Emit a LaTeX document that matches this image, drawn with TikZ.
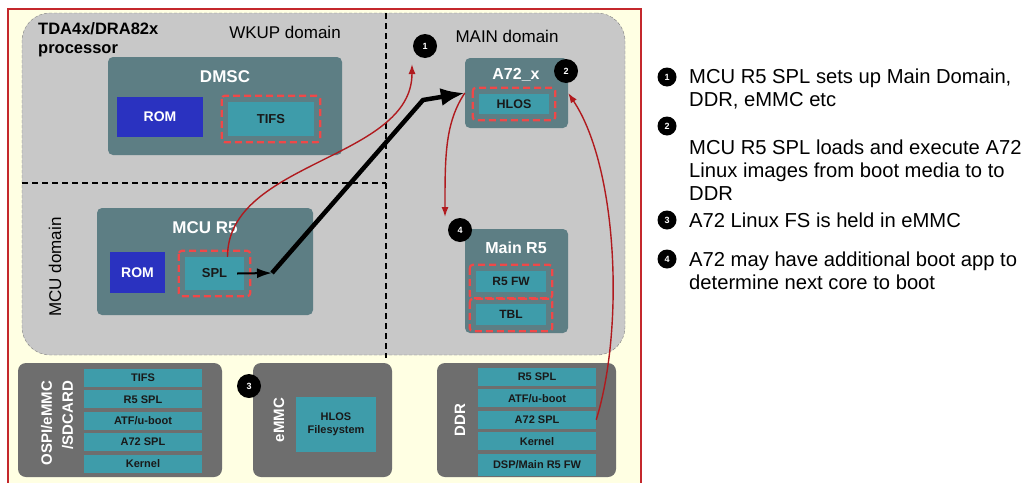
\documentclass[tikz,border=0pt]{standalone}
\usepackage{fontspec}
\setmainfont{Liberation Sans}
\usetikzlibrary{positioning,calc,arrows.meta}
\definecolor{framered}{RGB}{196,40,44}
\definecolor{paper}{RGB}{255,255,227}
\definecolor{procgray}{RGB}{200,200,200}
\definecolor{coreteal}{RGB}{93,126,132}
\definecolor{romblue}{RGB}{42,50,192}
\definecolor{fwteal}{RGB}{62,156,170}
\definecolor{dashred}{RGB}{240,72,72}
\definecolor{memgray}{RGB}{110,110,110}
\definecolor{flowred}{RGB}{176,26,30}
\tikzset{
  procbox/.style={fill=procgray, draw=gray, densely dashed, thin, rounded corners=28pt
  },
  core/.style={fill=coreteal, rounded corners=5pt, inner sep=0mm
  },
  coretitle/.style={text=white, font=\bfseries\fontsize{17}{19}\selectfont
  },
  rom/.style={fill=romblue, text=white, font=\bfseries\fontsize{14}{16}\selectfont, inner sep=0mm
  },
  fw/.style={fill=fwteal, text=black!90, font=\bfseries\fontsize{13}{15}\selectfont, inner sep=0mm
  },
  redbox/.style={draw=dashred, line width=2.2pt, dash pattern=on 7pt off 4pt, rounded corners=3pt
  },
  domline/.style={line width=1.3pt, dash pattern=on 6pt off 4pt
  },
  domlabel/.style={font=\fontsize{17}{19}\selectfont
  },
  mem/.style={fill=memgray, rounded corners=8pt, inner sep=0mm
  },
  memlabel/.style={text=white, font=\bfseries\fontsize{15}{21}\selectfont
  },
  memitem/.style={fill=fwteal, text=black!90, font=\bfseries\fontsize{11}{13}\selectfont,
    minimum width=118pt, minimum height=18pt, inner sep=0mm
  },
  num/.style={circle, fill=black, text=white, font=\bfseries\fontsize{9}{9}\selectfont,
    minimum size=24pt, inner sep=0mm
  },
  listnum/.style={circle, fill=black, text=white, font=\bfseries\fontsize{9}{9}\selectfont,
    minimum size=19pt, inner sep=0mm
  },
  flowarrow/.style={-{Latex[length=10pt,width=7pt]}, draw=flowred, line width=1.4pt
  },
  note/.style={anchor=west, align=left, font=\fontsize{20.2}{23}\selectfont, inner sep=0mm
  }
}

\begin{document}
\begin{tikzpicture}[x=1pt, y=-1pt]
  \useasboundingbox (0,0) rectangle (1032,482);
  \fill[white] (0,0) rectangle (1032,482);
  \draw[framered, fill=paper, line width=1.2pt] (8,9) rectangle (641,500);

  % processor and its domains
  \node[procbox, minimum width=603pt, minimum height=342pt] (proc) at (323.5,184) {};
  \draw[domline] (22,183) -- (386,183);
  \draw[domline] (386,13) -- (386,358);
  \node[anchor=north west, align=left, inner sep=0mm,
    font=\bfseries\fontsize{16.5}{19}\selectfont] (soc) at (38,22) {TDA4x/DRA82x\\processor};
  \node[domlabel] (wkup) at (285,32) {WKUP domain};
  \node[domlabel] (main) at (507,36) {MAIN domain};
  \node[domlabel, rotate=90] (mcu) at (55,267) {MCU domain};

  % DMSC
  \node[core, minimum width=234pt, minimum height=98pt] (dmsc) at (225,106) {};
  \node[coretitle] (dmsct) at (225,77) {DMSC};
  \node[rom, minimum width=86pt, minimum height=40pt] (dmscrom) at (160,117) {ROM};
  \node[fw, minimum width=86pt, minimum height=34pt] (tifs) at (271,119) {TIFS};
  \draw[redbox] ($(tifs.north west)+(-6,-6)$) rectangle ($(tifs.south east)+(6,6)$);

  % MCU R5
  \node[core, minimum width=216pt, minimum height=107pt] (mcur5) at (205,261.5) {};
  \node[coretitle] (mcur5t) at (205,228) {MCU R5};
  \node[rom, minimum width=55pt, minimum height=41pt] (mcurom) at (137.5,272.5) {ROM};
  \node[fw, minimum width=59pt, minimum height=33pt] (spl) at (214.5,273.5) {SPL};
  \draw[redbox] ($(spl.north west)+(-6,-6)$) rectangle ($(spl.south east)+(6,6)$);

  % A72
  \node[core, minimum width=103pt, minimum height=70pt] (a72) at (516.5,93) {};
  \node[coretitle, font=\bfseries\fontsize{16}{18}\selectfont] (a72t) at (516,75) {A72\_x};
  \node[fw, font=\bfseries\fontsize{12.5}{14}\selectfont, minimum width=70pt, minimum height=20pt] (hlos) at (514,104) {HLOS};
  \draw[redbox] ($(hlos.north west)+(-6,-6)$) rectangle ($(hlos.south east)+(6,6)$);

  % Main R5
  \node[core, minimum width=103pt, minimum height=104pt] (mainr5) at (516.5,281) {};
  \node[coretitle, font=\bfseries\fontsize{16}{18}\selectfont] (mainr5t) at (516,248) {Main R5};
  \node[fw, font=\bfseries\fontsize{12}{14}\selectfont, minimum width=70pt, minimum height=21pt] (r5fw) at (511,281.5) {R5 FW};
  \node[fw, font=\bfseries\fontsize{12}{14}\selectfont, minimum width=70pt, minimum height=21pt] (tbl) at (511,314.5) {TBL};
  \draw[redbox] ($(r5fw.north west)+(-6,-6)$) rectangle ($(r5fw.south east)+(6,6)$);
  \draw[redbox] ($(tbl.north west)+(-6,-5)$) rectangle ($(tbl.south east)+(6,6)$);

  % boot media
  \node[mem, minimum width=204pt, minimum height=114pt] (ospi) at (120,420) {};
  \node[memlabel, rotate=90, align=right] (ospil) at (57,423) {OSPI/eMMC\\/SDCARD};
  \node[memitem] (ospitifs) at (143,378) {TIFS};
  \node[memitem, below=3pt of ospitifs] (ospispl) {R5 SPL};
  \node[memitem, below=3pt of ospispl] (ospiatf) {ATF/u-boot};
  \node[memitem, below=3pt of ospiatf] (ospia72) {A72 SPL};
  \node[memitem, below=3pt of ospia72] (ospikern) {Kernel};

  \node[mem, minimum width=139pt, minimum height=114pt] (emmc) at (322.5,420) {};
  \node[memlabel, rotate=90] (emmcl) at (279,420) {eMMC};
  \node[memitem, align=center, minimum width=80pt, minimum height=55pt] (hlosfs) at (336,424.5) {HLOS\\Filesystem};

  \node[mem, minimum width=179pt, minimum height=114pt] (ddr) at (526.5,420) {};
  \node[memlabel, rotate=90] (ddrl) at (460,420) {DDR};
  \node[memitem] (ddrspl) at (537,377) {R5 SPL};
  \node[memitem, below=3pt of ddrspl] (ddratf) {ATF/u-boot};
  \node[memitem, below=3pt of ddratf] (ddra72) {A72 SPL};
  \node[memitem, below=3pt of ddra72] (ddrkern) {Kernel};
  \node[memitem, minimum height=22pt, below=3pt of ddrkern] (ddrdsp) {DSP/Main R5 FW};

  % step markers
  \node[num] (n1) at (425,46) {1};
  \node[num] (n2) at (566,71) {2};
  \node[num] (n3) at (249,386) {3};
  \node[num] (n4) at (460,230) {4};
  \coordinate (n1tip) at (412,64);
  \coordinate (n4tip) at (445,217);

  % boot flow
  \coordinate (hop) at (272,273);
  \coordinate (bend) at (423,100);
  \draw[-{Latex[length=15pt,width=10pt]}, line width=2pt] ([xshift=-7pt]spl.east) -- (hop);
  \draw[-{Latex[length=24pt,width=18pt]}, line width=4.5pt] (hop) -- (bend) -- (a72.west);
  \draw[flowarrow] ([xshift=13pt]spl.north) .. controls +(0,-96) and +(0,96) .. (n1tip);
  \draw[flowarrow] (a72.west) .. controls +(-20,30) and +(0,-60) .. (n4tip);
  \draw[flowarrow] (ddra72.east) .. controls +(28,-90) and +(50,75) .. (a72.east);

  % legend
  \node[listnum] (k1) at (667,77) {1};
  \node[note] (t1) at (689,88.5) {MCU R5 SPL sets up Main Domain,\\DDR, eMMC etc};
  \node[listnum] (k2) at (667,126) {2};
  \node[note] (t2) at (689,170) {MCU R5 SPL loads and execute A72\\Linux images from boot media to to\\DDR};
  \node[listnum] (k3) at (667,220) {3};
  \node[note] (t3) at (689,220) {A72 Linux FS is held in eMMC};
  \node[listnum] (k4) at (667,259) {4};
  \node[note] (t4) at (689,270.5) {A72 may have additional boot app to\\determine next core to boot};
\end{tikzpicture}
\end{document}
